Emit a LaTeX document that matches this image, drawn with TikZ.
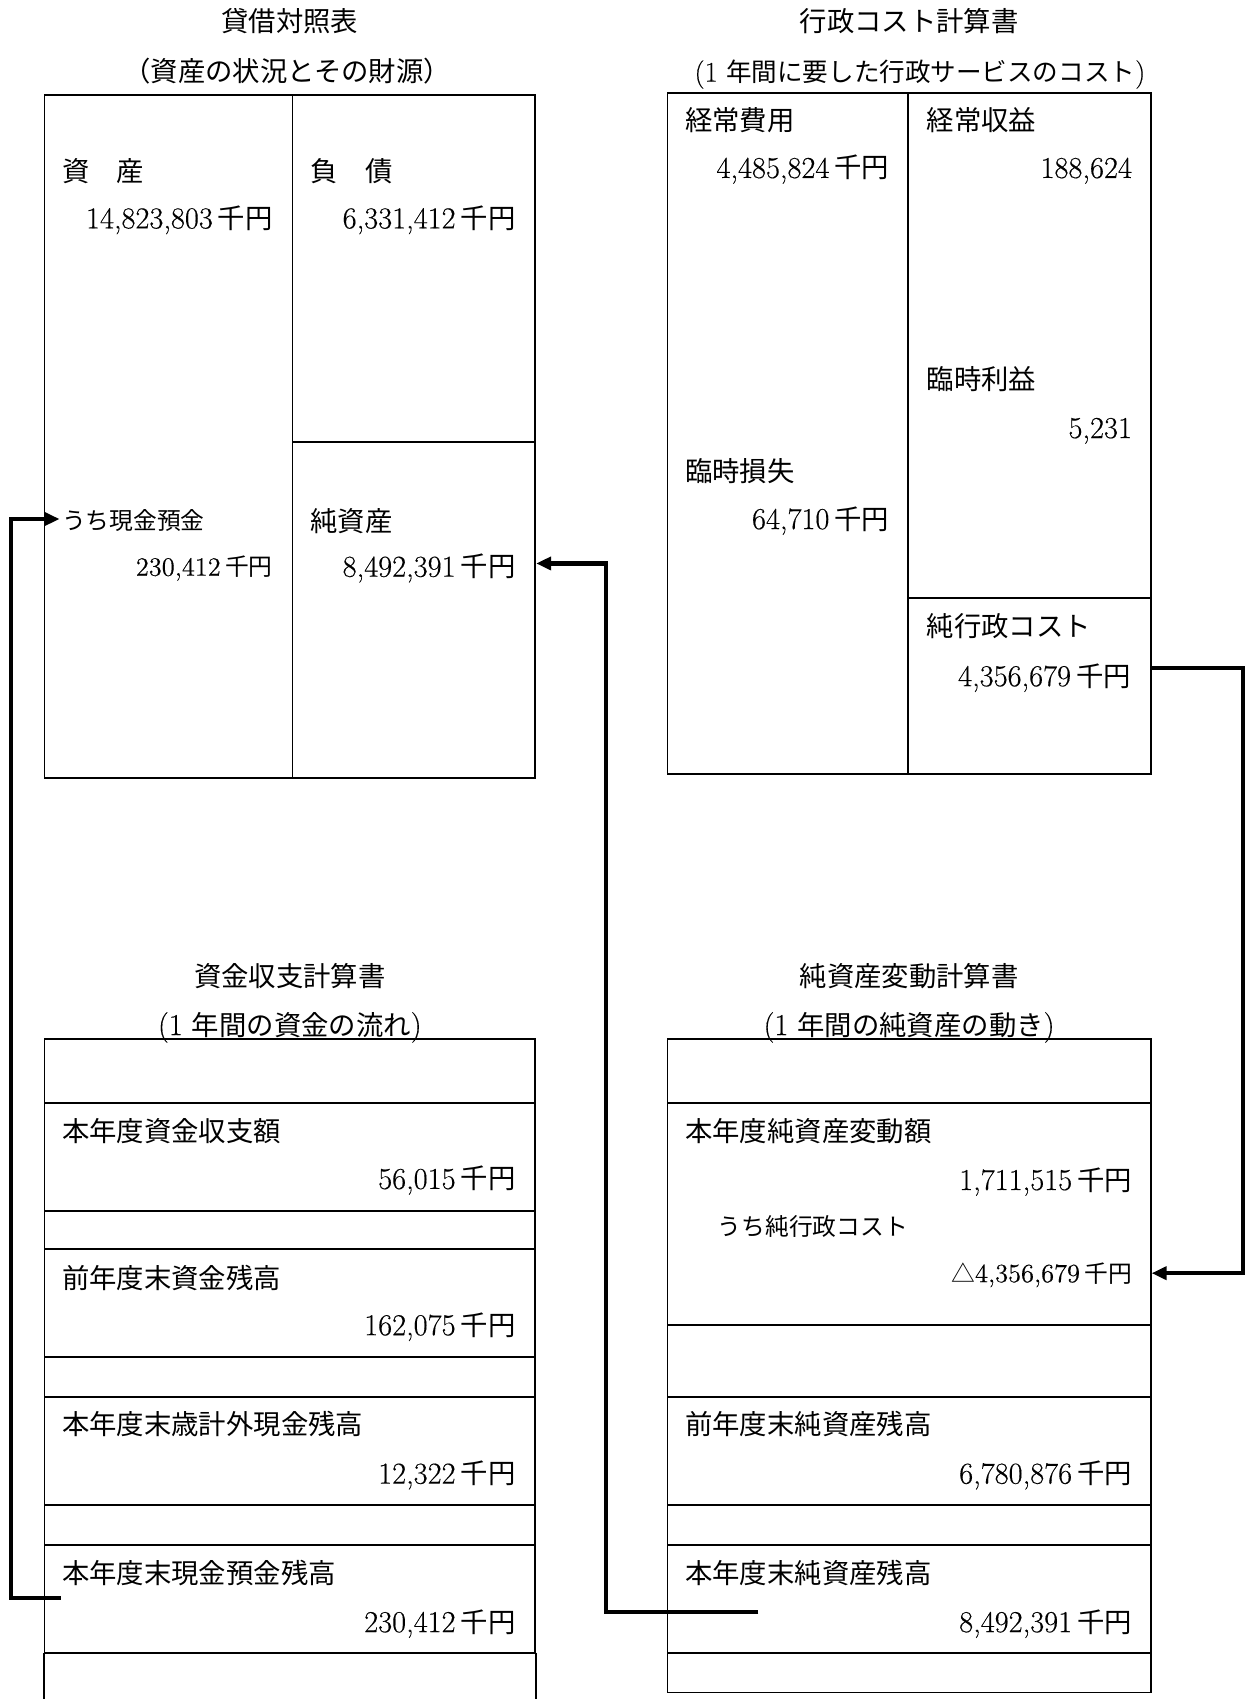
\documentclass[tikz,border=0pt]{standalone}
\usepackage{fontspec}
\setmainfont{Latin Modern Roman}[FakeBold=0.35]
\newfontfamily\cjk[Scale=0.9]{Noto Sans CJK JP}
\usetikzlibrary{fit,calc,arrows.meta}
\newcommand\fsBig{\fontsize{15.2pt}{18pt}\selectfont}
\newcommand\fsSmall{\fontsize{13.2pt}{16pt}\selectfont}
\newcommand\fsSub{\fontsize{14.2pt}{17pt}\selectfont}
\newcommand\senyen{{\cjk 千円}}
\begin{document}
\begin{tikzpicture}[x=0.5417pt,y=-0.5417pt,
  cell/.style={draw, line width=0.9pt, inner sep=0pt},
  lab/.style={anchor=west, inner sep=0pt, font=\fsBig\cjk, text height=10pt, text depth=0pt},
  num/.style={anchor=east, inner sep=0pt, font=\fsBig, text height=10pt, text depth=0pt},
  slab/.style={anchor=west, inner sep=0pt, font=\fsSmall\cjk, text height=9pt, text depth=0pt},
  snum/.style={anchor=east, inner sep=0pt, font=\fsSmall, text height=9pt, text depth=0pt},
  ttl/.style={inner sep=0pt, font=\fsBig\cjk, text height=10pt, text depth=0pt},
  subt/.style={inner sep=0pt, font=\fsBig, text height=10pt, text depth=0pt},
  conn/.style={line width=2.2pt, -{Triangle[length=7.5pt,width=6.5pt]}}]
\useasboundingbox (0,0) rectangle (1151,1568);

% ---------- Balance sheet ----------
\node[ttl] (bsT) at (267.5,20) {貸借対照表};
\node[ttl] (bsS) at (265,66) {（資産の状況とその財源）};
\node[cell, fit={(41,87.5) (270,718)}] (bsA) {};
\node[cell, fit={(270,87.5) (494,408)}] (bsL) {};
\node[cell, fit={(270,408) (494,718)}] (bsN) {};
\node[lab] (bsAl) at (57,158.5) {資　産};
\node[num] (bsAn) at (252,201.5) {14,823,803\,\senyen};
\node[lab] (bsLl) at (286,158.5) {負　債};
\node[num] (bsLn) at (476,201.5) {6,331,412\,\senyen};
\node[slab] (bsCash) at (57,480) {うち現金預金};
\node[snum] (bsCashn) at (252,523) {230,412\,\senyen};
\node[lab] (bsNl) at (286,481) {純資産};
\node[num] (bsNnum) at (476,523) {8,492,391\,\senyen};

% ---------- Cost statement ----------
\node[ttl] (plT) at (839,20) {行政コスト計算書};
\node[inner sep=0pt, font=\fsSub, text height=9pt, text depth=0pt] (plS) at (849,67) {(1 {\cjk 年間に要した行政サービスのコスト})};
\node[cell, fit={(616,86) (838,714)}] (plE) {};
\node[cell, fit={(838,86) (1062,552)}] (plR) {};
\node[cell, fit={(838,552) (1062,714)}] (plN) {};
\node[lab] (plEl) at (632,111) {経常費用};
\node[num] (plEn) at (821,155) {4,485,824\,\senyen};
\node[lab] (plRl) at (855,111) {経常収益};
\node[num] (plRn) at (1045,155) {188,624};
\node[lab] (plGl) at (855,350) {臨時利益};
\node[num] (plGn) at (1045,395) {5,231};
\node[lab] (plXl) at (632,435) {臨時損失};
\node[num] (plXn) at (821,479) {64,710\,\senyen};
\node[lab] (plNl) at (855,578) {純行政コスト};
\node[num] (plNnum) at (1044,624) {4,356,679\,\senyen};

% ---------- Cash flow statement ----------
\node[ttl] (cfT) at (267.5,901.5) {資金収支計算書};
\node[subt] (cfS) at (267.5,946) {(1 {\cjk 年間の資金の流れ})};
\node[cell, fit={(41,959) (494,1018)}] (cf0) {};
\node[cell, fit={(41,1018) (494,1117.5)}] (cf1) {};
\node[cell, fit={(41,1117.5) (494,1153)}] (cf2) {};
\node[cell, fit={(41,1153) (494,1252)}] (cf3) {};
\node[cell, fit={(41,1252) (494,1289)}] (cf4) {};
\node[cell, fit={(41,1289) (494,1389)}] (cf5) {};
\node[cell, fit={(41,1389) (494,1426)}] (cf6) {};
\node[cell, fit={(41,1426) (494,1525.5)}] (cf7) {};
\node[inner sep=0pt, fit={(41,1525.5) (494,1568)}] (cf8) {};
\draw[line width=0.9pt] (cf8.north west) -- (cf8.south west) (cf8.north east) -- (cf8.south east);
\node[lab] (cf1l) at (57,1044.6) {本年度資金収支額};
\node[num] (cf1n) at (476,1088) {56,015\,\senyen};
\node[lab] (cf3l) at (57,1180) {前年度末資金残高};
\node[num] (cf3n) at (476,1223) {162,075\,\senyen};
\node[lab] (cf5l) at (57,1315) {本年度末歳計外現金残高};
\node[num] (cf5n) at (476,1360) {12,322\,\senyen};
\node[lab] (cf7l) at (57,1452) {本年度末現金預金残高};
\node[num] (cf7n) at (476,1497) {230,412\,\senyen};

% ---------- Net assets statement ----------
\node[ttl] (naT) at (839,901.5) {純資産変動計算書};
\node[subt] (naS) at (839,946) {(1 {\cjk 年間の純資産の動き})};
\node[cell, fit={(616,959) (1062,1018)}] (na0) {};
\node[cell, fit={(616,1018) (1062,1223)}] (na1) {};
\node[cell, fit={(616,1223) (1062,1289)}] (na2) {};
\node[cell, fit={(616,1289) (1062,1389)}] (na3) {};
\node[cell, fit={(616,1389) (1062,1426)}] (na4) {};
\node[cell, fit={(616,1426) (1062,1525.5)}] (na5) {};
\node[cell, fit={(616,1525.5) (1062,1562)}] (na6) {};
\node[lab] (na1l) at (632,1044.5) {本年度純資産変動額};
\node[num] (na1n) at (1045,1089) {1,711,515\,\senyen};
\node[slab] (naCostl) at (662,1132) {うち純行政コスト};
\node[snum] (naCost) at (1045,1175) {{\cjk △}4,356,679\,\senyen};
\node[lab] (na3l) at (632,1315) {前年度末純資産残高};
\node[num] (na3n) at (1045,1360) {6,780,876\,\senyen};
\node[lab] (na5l) at (632,1452) {本年度末純資産残高};
\node[num] (na5n) at (1045,1497) {8,492,391\,\senyen};

% ---------- Connectors ----------
\coordinate (railL) at (10,0);
\coordinate (railM) at (559,0);
\coordinate (railR) at (1147,0);
\coordinate (cashStub) at (56,1475);
\coordinate (naStub) at (700,1487.6);

\draw[conn] (cashStub) -- (cashStub -| railL) |- ($(bsCash.west)+(-2,-1)$);
\draw[conn] (naStub) -- (naStub -| railM) |- ($(bsNnum.center -| bsN.east)+(0,-3)$);
\draw[conn] ($(plNnum.center -| plN.east)+(0,-7.5)$) -| (railR |- naCost.center) -- (naCost.center -| na1.east);
\end{tikzpicture}
\end{document}
